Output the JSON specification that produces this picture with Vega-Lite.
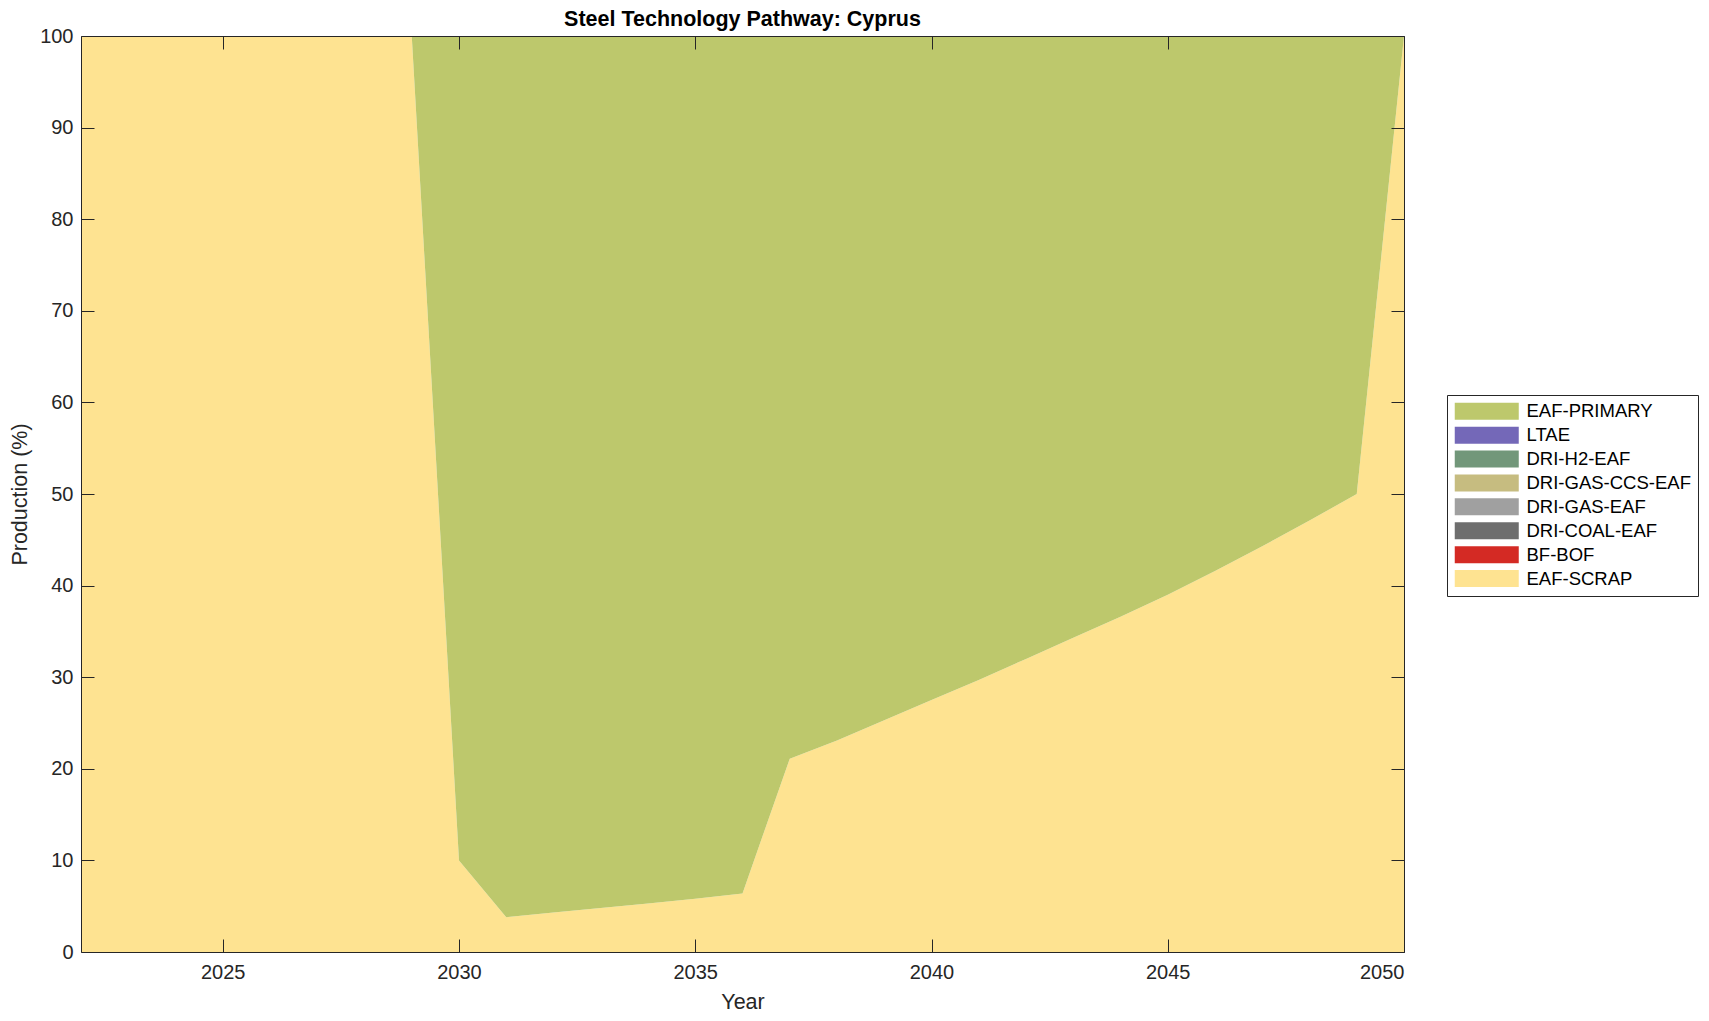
{
  "$schema": "https://vega.github.io/schema/vega-lite/v6.json",
  "autosize": {"type": "none"},
  "padding": {"left": 81, "top": 36, "right": 305, "bottom": 69},
  "width": 1323,
  "height": 916,
  "background": "white",
  "config": {
    "font": "Liberation Sans",
    "view": {"stroke": null},
    "axis": {
      "domain": true,
      "domainColor": "#262626",
      "domainWidth": 1,
      "grid": false,
      "tickColor": "#262626",
      "tickWidth": 1,
      "labelColor": "#262626",
      "titleColor": "#262626",
      "labelFont": "Liberation Sans",
      "titleFont": "Liberation Sans",
      "labelFontSize": 20,
      "titleFontSize": 21.5,
      "titleFontWeight": "normal"
    }
  },
  "title": {
    "text": "Steel Technology Pathway: Cyprus",
    "font": "Liberation Sans",
    "fontSize": 21.5,
    "fontWeight": "bold",
    "color": "black",
    "anchor": "middle",
    "offset": -4
  },
  "data": {
    "values": [
      {"year": 2022, "tech": "EAF-SCRAP", "ord": 0, "value": 100},
      {"year": 2023, "tech": "EAF-SCRAP", "ord": 0, "value": 100},
      {"year": 2024, "tech": "EAF-SCRAP", "ord": 0, "value": 100},
      {"year": 2025, "tech": "EAF-SCRAP", "ord": 0, "value": 100},
      {"year": 2026, "tech": "EAF-SCRAP", "ord": 0, "value": 100},
      {"year": 2027, "tech": "EAF-SCRAP", "ord": 0, "value": 100},
      {"year": 2028, "tech": "EAF-SCRAP", "ord": 0, "value": 100},
      {"year": 2029, "tech": "EAF-SCRAP", "ord": 0, "value": 100},
      {"year": 2030, "tech": "EAF-SCRAP", "ord": 0, "value": 10.0},
      {"year": 2031, "tech": "EAF-SCRAP", "ord": 0, "value": 3.8},
      {"year": 2032, "tech": "EAF-SCRAP", "ord": 0, "value": 4.3},
      {"year": 2033, "tech": "EAF-SCRAP", "ord": 0, "value": 4.8},
      {"year": 2034, "tech": "EAF-SCRAP", "ord": 0, "value": 5.3},
      {"year": 2035, "tech": "EAF-SCRAP", "ord": 0, "value": 5.8},
      {"year": 2036, "tech": "EAF-SCRAP", "ord": 0, "value": 6.4},
      {"year": 2037, "tech": "EAF-SCRAP", "ord": 0, "value": 21.1},
      {"year": 2038, "tech": "EAF-SCRAP", "ord": 0, "value": 23.1},
      {"year": 2039, "tech": "EAF-SCRAP", "ord": 0, "value": 25.3},
      {"year": 2040, "tech": "EAF-SCRAP", "ord": 0, "value": 27.5},
      {"year": 2041, "tech": "EAF-SCRAP", "ord": 0, "value": 29.7},
      {"year": 2042, "tech": "EAF-SCRAP", "ord": 0, "value": 32.0},
      {"year": 2043, "tech": "EAF-SCRAP", "ord": 0, "value": 34.3},
      {"year": 2044, "tech": "EAF-SCRAP", "ord": 0, "value": 36.6},
      {"year": 2045, "tech": "EAF-SCRAP", "ord": 0, "value": 39.0},
      {"year": 2046, "tech": "EAF-SCRAP", "ord": 0, "value": 41.6},
      {"year": 2047, "tech": "EAF-SCRAP", "ord": 0, "value": 44.3},
      {"year": 2048, "tech": "EAF-SCRAP", "ord": 0, "value": 47.1},
      {"year": 2049, "tech": "EAF-SCRAP", "ord": 0, "value": 50.0},
      {"year": 2050, "tech": "EAF-SCRAP", "ord": 0, "value": 100},
      {"year": 2022, "tech": "EAF-PRIMARY", "ord": 1, "value": 0},
      {"year": 2023, "tech": "EAF-PRIMARY", "ord": 1, "value": 0},
      {"year": 2024, "tech": "EAF-PRIMARY", "ord": 1, "value": 0},
      {"year": 2025, "tech": "EAF-PRIMARY", "ord": 1, "value": 0},
      {"year": 2026, "tech": "EAF-PRIMARY", "ord": 1, "value": 0},
      {"year": 2027, "tech": "EAF-PRIMARY", "ord": 1, "value": 0},
      {"year": 2028, "tech": "EAF-PRIMARY", "ord": 1, "value": 0},
      {"year": 2029, "tech": "EAF-PRIMARY", "ord": 1, "value": 0},
      {"year": 2030, "tech": "EAF-PRIMARY", "ord": 1, "value": 90.0},
      {"year": 2031, "tech": "EAF-PRIMARY", "ord": 1, "value": 96.2},
      {"year": 2032, "tech": "EAF-PRIMARY", "ord": 1, "value": 95.7},
      {"year": 2033, "tech": "EAF-PRIMARY", "ord": 1, "value": 95.2},
      {"year": 2034, "tech": "EAF-PRIMARY", "ord": 1, "value": 94.7},
      {"year": 2035, "tech": "EAF-PRIMARY", "ord": 1, "value": 94.2},
      {"year": 2036, "tech": "EAF-PRIMARY", "ord": 1, "value": 93.6},
      {"year": 2037, "tech": "EAF-PRIMARY", "ord": 1, "value": 78.9},
      {"year": 2038, "tech": "EAF-PRIMARY", "ord": 1, "value": 76.9},
      {"year": 2039, "tech": "EAF-PRIMARY", "ord": 1, "value": 74.7},
      {"year": 2040, "tech": "EAF-PRIMARY", "ord": 1, "value": 72.5},
      {"year": 2041, "tech": "EAF-PRIMARY", "ord": 1, "value": 70.3},
      {"year": 2042, "tech": "EAF-PRIMARY", "ord": 1, "value": 68.0},
      {"year": 2043, "tech": "EAF-PRIMARY", "ord": 1, "value": 65.7},
      {"year": 2044, "tech": "EAF-PRIMARY", "ord": 1, "value": 63.4},
      {"year": 2045, "tech": "EAF-PRIMARY", "ord": 1, "value": 61.0},
      {"year": 2046, "tech": "EAF-PRIMARY", "ord": 1, "value": 58.4},
      {"year": 2047, "tech": "EAF-PRIMARY", "ord": 1, "value": 55.7},
      {"year": 2048, "tech": "EAF-PRIMARY", "ord": 1, "value": 52.9},
      {"year": 2049, "tech": "EAF-PRIMARY", "ord": 1, "value": 50.0},
      {"year": 2050, "tech": "EAF-PRIMARY", "ord": 1, "value": 0}
    ]
  },
  "resolve": {"axis": {"x": "independent", "y": "independent"}},
  "layer": [
    {
      "mark": {"type": "area", "opacity": 1, "strokeWidth": 0},
      "encoding": {
        "x": {
          "field": "year", "type": "quantitative",
          "scale": {"domain": [2022, 2050], "nice": false, "zero": false},
          "axis": {
            "orient": "bottom", "title": "Year", "format": "d", "zindex": 1,
            "values": [2025, 2030, 2035, 2040, 2045, 2050],
            "tickSize": -13, "labelPadding": 23, "titlePadding": 9
          }
        },
        "y": {
          "field": "value", "type": "quantitative", "stack": "zero",
          "scale": {"domain": [0, 100], "nice": false},
          "axis": {
            "orient": "left", "title": "Production (%)", "zindex": 1,
            "values": [0, 10, 20, 30, 40, 50, 60, 70, 80, 90, 100],
            "tickSize": -13, "labelPadding": 21, "titlePadding": 8
          }
        },
        "color": {
          "field": "tech", "type": "nominal",
          "scale": {
            "domain": ["EAF-PRIMARY", "LTAE", "DRI-H2-EAF", "DRI-GAS-CCS-EAF", "DRI-GAS-EAF", "DRI-COAL-EAF", "BF-BOF", "EAF-SCRAP"],
            "range": ["#BDC86C", "#7468B8", "#72977A", "#C6BC80", "#A0A0A0", "#6E6E6E", "#D42A24", "#FEE391"]
          },
          "legend": {
            "title": null,
            "orient": "none",
            "legendX": 1366,
            "legendY": 359,
            "direction": "vertical",
            "padding": 7,
            "strokeColor": "#262626",
            "fillColor": "white",
            "symbolType": "M-1,-1H6.53V1H-1Z",
            "symbolSize": 289,
            "symbolStrokeWidth": 0,
            "symbolOpacity": 1,
            "labelFont": "Liberation Sans",
            "labelFontSize": 18.5,
            "labelColor": "black",
            "labelOffset": 54,
            "labelLimit": 400,
            "rowPadding": 4.9
          }
        },
        "order": {"field": "ord", "type": "quantitative"}
      }
    },
    {
      "mark": {"type": "point", "opacity": 0},
      "encoding": {
        "x": {
          "field": "year", "type": "quantitative",
          "axis": {
            "orient": "top", "title": null, "labels": false, "zindex": 1,
            "values": [2025, 2030, 2035, 2040, 2045, 2050],
            "tickSize": -13
          }
        },
        "y": {
          "field": "value", "type": "quantitative",
          "axis": {
            "orient": "right", "title": null, "labels": false, "zindex": 1,
            "values": [0, 10, 20, 30, 40, 50, 60, 70, 80, 90, 100],
            "tickSize": -13
          }
        }
      }
    }
  ]
}
